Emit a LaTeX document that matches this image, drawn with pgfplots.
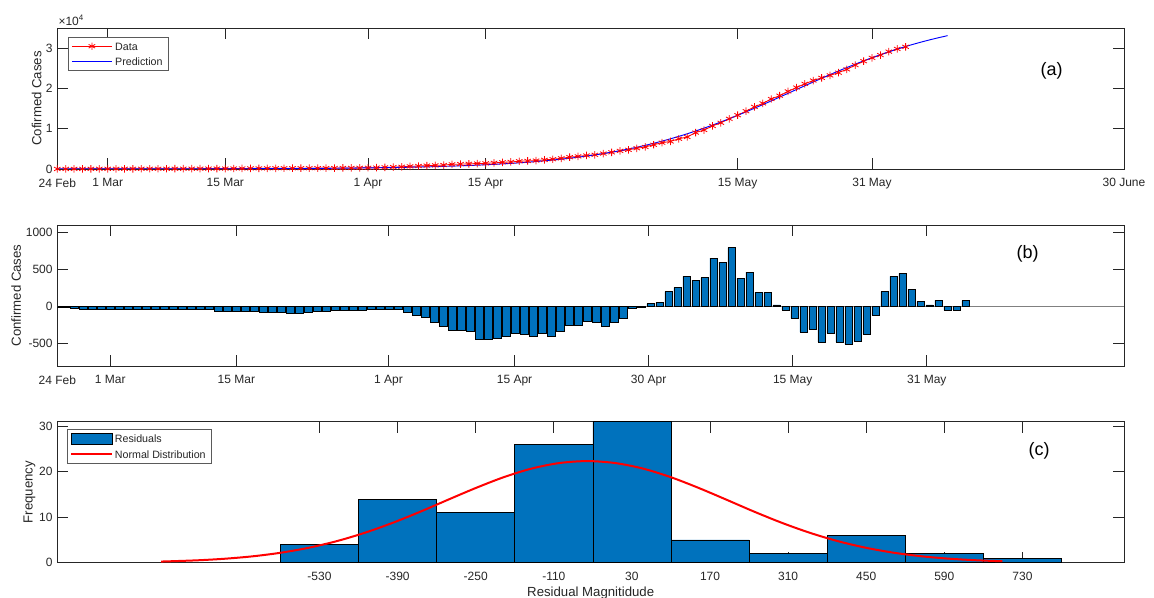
\documentclass[border=0pt]{standalone}
\usepackage{fontspec}
\setmainfont{Liberation Sans}
\usepackage{pgfplots}
\pgfplotsset{compat=1.18}
\usepackage{pgfplotstable}
\definecolor{mgray}{RGB}{38,38,38}
\definecolor{mblue}{RGB}{0,114,189}
\definecolor{leggray}{RGB}{90,90,90}
\definecolor{basegray}{RGB}{128,128,128}
\definecolor{pblue}{RGB}{0,0,255}
\newcommand{\tickfont}{\fontsize{9}{10.8}\selectfont}
\newcommand{\labfont}{\fontsize{9.9}{11.9}\selectfont}
\newcommand{\legfont}{\fontsize{8}{9.6}\selectfont}
\newcommand{\panfont}{\fontsize{13.5}{16}\selectfont}

\pgfplotstableread{
d v
0 11
1 16
2 31
3 40
4 41
5 42
6 43
7 52
8 54
9 56
10 57
11 59
12 62
13 64
14 67
15 70
16 73
17 76
18 100
19 105
20 110
21 124
22 130
23 145
24 152
25 160
26 178
27 187
28 189
29 191
30 195
31 205
32 221
33 238
34 256
35 261
36 284
37 309
38 337
39 405
40 475
41 548
42 656
43 745
44 848
45 902
46 983
47 1148
48 1224
49 1290
50 1354
51 1405
52 1523
53 1659
54 1750
55 1923
56 2006
57 2095
58 2271
59 2423
60 2650
61 2938
62 3133
63 3356
64 3522
65 3832
66 4134
67 4499
68 4760
69 5145
70 5465
71 6018
72 6526
73 6836
74 7502
75 7946
76 9042
77 9672
78 10693
79 11475
80 12458
81 13362
82 14342
83 15418
84 16282
85 17375
86 18199
87 19258
88 20224
89 21128
90 21960
91 22627
92 23232
93 23914
94 24733
95 25790
96 26767
97 27595
98 28279
99 29128
100 29806
101 30324
}\dataA

\pgfplotstableread{
d v
0 7
1 8
2 9
3 10
4 11
5 12
6 13
7 14
8 16
9 18
10 19
11 21
12 24
13 26
14 29
15 32
16 35
17 38
18 42
19 47
20 52
21 57
22 63
23 69
24 76
25 84
26 93
27 102
28 113
29 124
30 137
31 151
32 167
33 184
34 202
35 223
36 246
37 271
38 299
39 329
40 363
41 400
42 441
43 486
44 535
45 589
46 648
47 714
48 786
49 865
50 952
51 1047
52 1152
53 1266
54 1392
55 1530
56 1680
57 1845
58 2025
59 2222
60 2435
61 2670
62 2923
63 3200
64 3500
65 3823
66 4174
67 4553
68 4961
69 5400
70 5872
71 6376
72 6915
73 7489
74 8097
75 8742
76 9422
77 10137
78 10885
79 11667
80 12480
81 13317
82 14186
83 15074
84 15982
85 16901
86 17841
87 18780
88 19723
89 20666
90 21593
91 22515
92 23433
93 24321
94 25180
95 26022
96 26834
97 27617
98 28364
99 29079
100 29761
101 30404
102 31011
103 31586
104 32124
105 32627
106 33098
}\predA

\pgfplotstableread{
d r
0 -4
1 -8
2 -22
3 -30
4 -30
5 -30
6 -30
7 -38
8 -38
9 -38
10 -38
11 -38
12 -38
13 -38
14 -38
15 -38
16 -38
17 -38
18 -58
19 -58
20 -58
21 -67
22 -67
23 -76
24 -76
25 -76
26 -85
27 -85
28 -76
29 -67
30 -58
31 -54
32 -54
33 -54
34 -54
35 -38
36 -38
37 -38
38 -38
39 -76
40 -112
41 -148
42 -215
43 -259
44 -313
45 -313
46 -335
47 -434
48 -438
49 -425
50 -402
51 -358
52 -371
53 -393
54 -358
55 -393
56 -326
57 -250
58 -246
59 -201
60 -215
61 -268
62 -210
63 -156
64 -22
65 -9
66 40
67 54
68 201
69 255
70 407
71 358
72 389
73 653
74 595
75 796
76 380
77 465
78 192
79 192
80 22
81 -45
82 -156
83 -344
84 -300
85 -474
86 -358
87 -478
88 -501
89 -462
90 -367
91 -112
92 201
93 407
94 447
95 232
96 67
97 22
98 85
99 -49
100 -45
101 80
}\resid

\pgfplotsset{
  mstyle/.style={
    scale only axis, width=800pt, height=105.75pt,
    axis line style={mgray, line width=0.6pt},
    tick align=inside, major tick length=8.25pt,
    every tick/.style={mgray, line width=0.6pt},
    tick label style={color=mgray, font=\tickfont},
    xticklabel style={yshift=-3.6pt},
    /pgf/number format/assume math mode=true,
    /pgf/number format/1000 sep={},
    scaled ticks=false,
    legend cell align=left,
    legend image code/.code={\draw[mark repeat=2,mark phase=2,##1] plot coordinates {(0pt,0pt)(15pt,0pt)(30pt,0pt)};},
  },
  mleg/.style={
    legend style={at={(axis description cs:0,1)}, anchor=north west,
      draw=leggray, line width=0.5pt, fill=white, font=\legfont, text=mgray,
      inner xsep=2pt, inner ysep=2pt, row sep=1.5pt,
      nodes={inner sep=2pt, text height=5.9pt, text depth=0pt}},
  },
  histleg/.style={
    legend image code/.code={\draw[##1,/tikz/.cd] (0pt,-4.1pt) rectangle (30.5pt,4.1pt);},
  },
  predleg/.style={
    legend image code/.code={\draw[pblue, line width=0.9pt] (0pt,0pt) -- (30pt,0pt);},
  },
}

\begin{document}
\begin{tikzpicture}
\path[use as bounding box] (0,0) rectangle (865.5pt,-448.5pt);

% Panel (a)
\begin{axis}[mstyle, mleg, at={(42.975pt,-21pt)}, anchor=north west,
  xmin=0, xmax=127, ymin=0, ymax=35000,
  xtick={0,6,20,37,51,81,97,127},
  xticklabels={24 Feb,1 Mar,15 Mar,1 Apr,15 Apr,15 May,31 May,30 June},
  ytick={0,10000,20000,30000}, yticklabels={0,1,2,3},
  legend style={xshift=8.25pt, yshift=-6.5pt}]
\addplot[red, line width=0.6pt, mark=asterisk, mark size=2.8pt, mark options={solid, line width=0.6pt}] table[x=d,y=v]{\dataA};
\addlegendentry{Data}
\addplot[pblue, line width=0.7pt, predleg] table[x=d,y=v]{\predA};
\addlegendentry{Prediction}
\end{axis}

% Panel (b)
\begin{axis}[mstyle, at={(42.975pt,-168.75pt)}, anchor=north west,
  xmin=0.11, xmax=118.6, ymin=-800, ymax=1100,
  xtick={0.11,6,20,36.9,50.9,65.8,81.8,96.7},
  xticklabels={24 Feb,1 Mar,15 Mar,1 Apr,15 Apr,30 Apr,15 May,31 May},
  ytick={-500,0,500,1000}]
\addplot[forget plot, basegray, line width=0.5pt] coordinates {(0,0) (119,0)};
\addplot[ybar, bar width=0.82, fill=mblue, draw=black, line width=0.4pt] table[x=d,y=r]{\resid};
\end{axis}

% Panel (c)
\begin{axis}[mstyle, mleg, at={(42.975pt,-316.275pt)}, anchor=north west,
  xmin=-1000, xmax=912, ymin=0, ymax=31,
  xtick={-530,-390,-250,-110,30,170,310,450,590,730},
  ytick={0,10,20,30},
  legend style={xshift=7.5pt, yshift=-5.7pt}]
\addplot[ybar interval, fill=mblue, draw=black, line width=0.5pt, histleg]
  coordinates {(-600,4) (-460,14) (-320,11) (-180,26) (-40,31) (100,5) (240,2) (380,6) (520,2) (660,1) (800,1)};
\addlegendentry{Residuals}
\addplot[red, line width=1.5pt, smooth] coordinates {
(-814,0.25) (-750,0.52) (-700,0.87) (-650,1.40) (-600,2.18) (-550,3.27) (-500,4.71) (-450,6.53) (-400,8.71) (-350,11.18) (-300,13.82) (-250,16.42) (-200,18.79) (-150,20.69) (-100,21.91) (-50,22.34) (0,21.91) (50,20.69) (100,18.79) (150,16.42) (200,13.82) (250,11.18) (300,8.71) (350,6.53) (400,4.71) (450,3.27) (500,2.18) (550,1.40) (600,0.87) (650,0.52) (694,0.32)};
\addlegendentry{Normal Distribution}
\end{axis}

\begin{scope}[x=0.75pt, y=-0.75pt]
\node[rotate=90, font=\labfont, text=mgray, inner sep=0pt] at (36.7,98.5) {Cofirmed Cases};
\node[rotate=90, font=\labfont, text=mgray, inner sep=0pt] at (16.2,295.5) {Confirmed Cases};
\node[rotate=90, font=\labfont, text=mgray, inner sep=0pt] at (29.5,492.2) {Frequency};
\node[font=\labfont, text=mgray, anchor=base, inner sep=0pt] at (590.7,596.5) {Residual Magnitidude};
\node[font=\tickfont, text=mgray, anchor=base west, inner sep=0pt] at (58.3,26) {×10\textsuperscript{4}};
\node[font=\panfont, inner sep=0pt] at (1051.7,71.3) {(a)};
\node[font=\panfont, inner sep=0pt] at (1027.5,253.8) {(b)};
\node[font=\panfont, inner sep=0pt] at (1039,451.3) {(c)};
\end{scope}
\end{tikzpicture}
\end{document}
